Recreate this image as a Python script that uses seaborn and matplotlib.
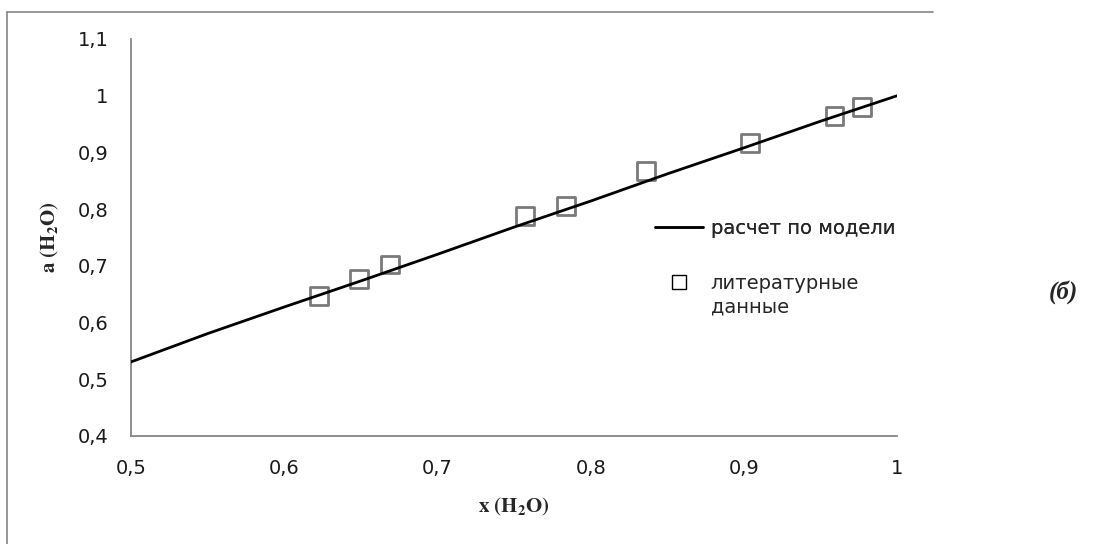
import numpy as np
import pandas as pd
import matplotlib
matplotlib.use("Agg")
import matplotlib.pyplot as plt
import seaborn as sns
from matplotlib.lines import Line2D

# model curve a(H2O) vs x(H2O)
model_x = [0.50, 0.55, 0.60, 0.65, 0.70, 0.75, 0.80, 0.85, 0.90, 0.95, 1.00]
model_a = [0.530, 0.580, 0.627, 0.673, 0.720, 0.768, 0.814, 0.862, 0.908, 0.955, 1.000]

# literature points
lit_x = [0.623, 0.649, 0.669, 0.757, 0.784, 0.836, 0.904, 0.959, 0.977]
lit_a = [0.647, 0.677, 0.702, 0.788, 0.806, 0.867, 0.917, 0.964, 0.980]

xticks = [0.5, 0.6, 0.7, 0.8, 0.9, 1.0]
yticks = [0.4, 0.5, 0.6, 0.7, 0.8, 0.9, 1.0, 1.1]

line_label = "расчет по модели"
lit_labels = ["литературные", "данные"]

sns.set_style("white")
plt.rcParams["font.family"] = ["DejaVu Sans"]
plt.rcParams["mathtext.fontset"] = "stix"

W, H = 1096, 544
fig = plt.figure(figsize=(W / 100, H / 100), dpi=100)
ax = fig.add_axes([130.7 / W, 1 - 435.7 / H, (897.3 - 130.7) / W, (435.7 - 39) / H])

model = pd.DataFrame({"x": model_x, "a": model_a})
lit = pd.DataFrame({"x": lit_x, "a": lit_a})

sns.lineplot(data=model, x="x", y="a", color="black", linewidth=2.0, ax=ax, zorder=3)
sns.scatterplot(data=lit, x="x", y="a", marker="s", s=165, facecolor="none",
                edgecolor="#7a7a7a", linewidth=2.0, ax=ax, zorder=2)

ax.set_xlim(0.5, 1.0)
ax.set_ylim(0.4, 1.1)
ax.set_xticks(xticks)
ax.set_yticks(yticks)
fmt = lambda v: ("%g" % v).replace(".", ",")
ax.set_xticklabels([fmt(v) for v in xticks], fontsize=14, color="#1a1a1a")
ax.set_yticklabels([fmt(v) for v in yticks], fontsize=14, color="#1a1a1a")

for s in ["top", "right"]:
    ax.spines[s].set_visible(False)
for s in ["left", "bottom"]:
    ax.spines[s].set_color("#868686")
    ax.spines[s].set_linewidth(1.3)
ax.tick_params(axis="both", direction="out", length=5, width=1.0, color="#868686")
ax.tick_params(axis="x", pad=12)
ax.tick_params(axis="y", pad=11)

ax.set_xlabel(r"$\mathbf{x\ (H_2O)}$", fontsize=15, labelpad=13)
ax.set_ylabel(r"$\mathbf{a\ (H_2O)}$", fontsize=15, labelpad=12)

# legend, two blocks like the original
h_line = Line2D([], [], color="black", linewidth=1.8)
leg1 = fig.legend([h_line], [line_label], loc="center left",
                  bbox_to_anchor=(655 / W, 1 - 228 / H), frameon=False,
                  fontsize=14, handlelength=2.45, handletextpad=0.42,
                  borderpad=0, borderaxespad=0)
fig.add_artist(leg1)
h_sq = Line2D([], [], marker="s", markersize=10, markerfacecolor="none",
              markeredgecolor="black", markeredgewidth=1.0, linestyle="none")
h_blank = Line2D([], [], linestyle="none")
fig.legend([h_sq, h_blank], lit_labels, loc="upper left",
           bbox_to_anchor=(655 / W, 1 - 274 / H), frameon=False,
           fontsize=14, handlelength=2.45, handletextpad=0.42,
           labelspacing=0.25, borderpad=0, borderaxespad=0)

fig.text(1078 / W, 1 - 292 / H, "(б)", fontsize=18, fontweight="bold", fontstyle="italic",
         family="Liberation Serif", ha="right", va="center")

# outer chart frame (top and left)
fig.add_artist(Line2D([6.7 / W, 932.7 / W], [1 - 12.3 / H, 1 - 12.3 / H],
                      color="#868686", linewidth=1.2, transform=fig.transFigure))
fig.add_artist(Line2D([6.7 / W, 6.7 / W], [0, 1 - 12.3 / H],
                      color="#868686", linewidth=1.2, transform=fig.transFigure))

fig.savefig("out.png", dpi=100)
